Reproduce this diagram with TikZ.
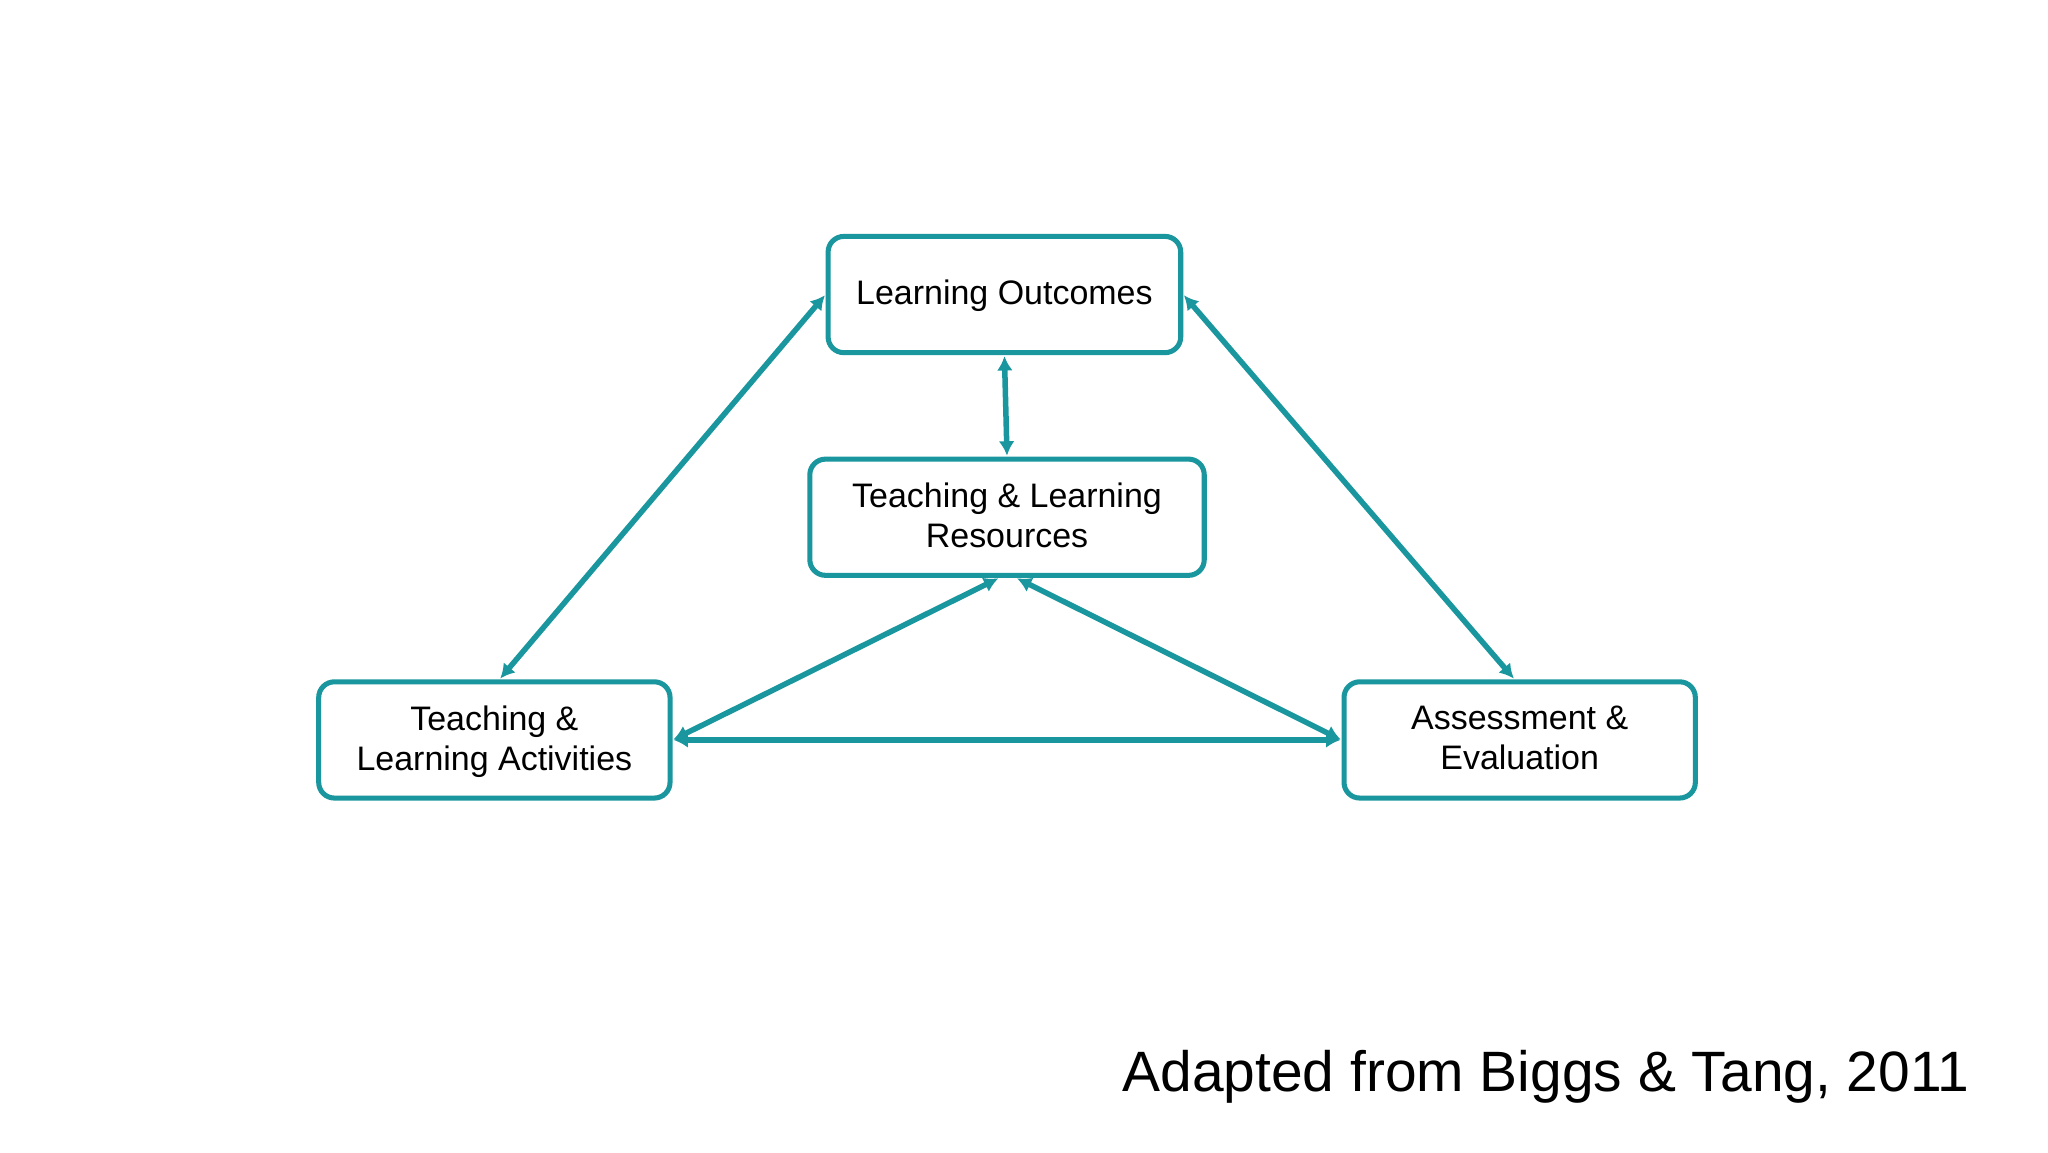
\documentclass[tikz,border=0pt]{standalone}
\usepackage{fontspec}
\setmainfont{Liberation Sans}
\usetikzlibrary{arrows.meta}
\definecolor{teal1}{HTML}{1A969E}
\begin{document}
\begin{tikzpicture}[x=0.05cm,y=-0.05cm,
  box/.style={draw=teal1,line width=5.5pt,rounded corners=0.6cm,fill=white,align=center,font=\fontsize{37}{44}\selectfont,inner sep=0pt,minimum height=4.45cm,text depth=0.15cm},
  link/.style={draw=teal1,line width=6pt,{Latex[length=0.55cm,width=0.6cm]}-{Latex[length=0.55cm,width=0.6cm]},shorten <=1pt,shorten >=1pt}]
\useasboundingbox (0,0) rectangle (1568,882);
\node[box,minimum width=13.5cm] (LO) at (769,225.5) {Learning Outcomes};
\node[box,minimum width=15.1cm] (TLR) at (771,396) {Teaching \& Learning\\Resources};
\node[box,minimum width=13.45cm] (TLA) at (378.5,566.5) {Teaching \&\\Learning Activities};
\node[box,minimum width=13.45cm] (AE) at (1163.5,566.5) {Assessment \&\\Evaluation};
\draw[link] (LO.west) -- ([xshift=0.2cm]TLA.north);
\draw[link] (LO.east) -- ([xshift=-0.2cm]AE.north);
\draw[link] (LO.south) -- (TLR.north);
\draw[link] ([xshift=-0.3cm]TLR.south) -- (TLA.east);
\draw[link] ([xshift=0.35cm]TLR.south) -- (AE.west);
\draw[link] (TLA.east) -- (AE.west);
\node[anchor=base east,font=\fontsize{62}{70}\selectfont,inner sep=0pt] (cap) at (1508,836) {Adapted from Biggs \& Tang, 2011};
\end{tikzpicture}
\end{document}
